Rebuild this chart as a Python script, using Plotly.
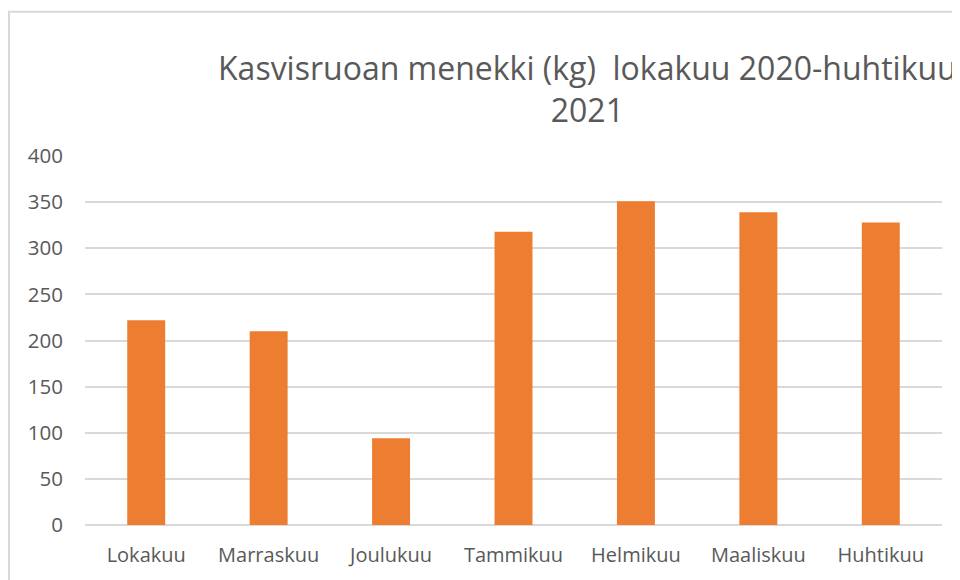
import plotly.graph_objects as go

categories = ["Lokakuu", "Marraskuu", "Joulukuu", "Tammikuu", "Helmikuu", "Maaliskuu", "Huhtikuu"]
values = [222, 210, 94, 318, 351, 339, 328]
y_ticks = [0, 50, 100, 150, 200, 250, 300, 350, 400]
title_text = "Kasvisruoan menekki (kg)  lokakuu 2020-huhtikuu<br>2021"

# page body has an 8px margin, so the figure is drawn 8px smaller and all targets shifted
OFF = 8
W, H = 960 - OFF, 580 - OFF
L, R, T, B = 85 - OFF, 18, 156 - OFF, 53
pw, ph = W - L - R, H - T - B

def px_x(x):
    return (x - OFF - L) / pw

def px_y(y):
    return (H - B - (y - OFF)) / ph

fig = go.Figure(go.Bar(x=categories, y=values, marker=dict(color="#ED7D31", line=dict(width=0)), showlegend=False))

font = "Open Sans, Liberation Sans, sans-serif"
fig.update_layout(
    width=W, height=H,
    margin=dict(l=L, r=R, t=T, b=B),
    paper_bgcolor="white", plot_bgcolor="white",
    bargap=0.69,
    font=dict(family=font, color="#595959", size=19),
    xaxis=dict(showgrid=False, showline=False, zeroline=False, ticks="", ticklabelstandoff=16,
               tickfont=dict(size=20, color="#595959")),
    yaxis=dict(range=[0, 400], tickvals=y_ticks, showgrid=True, gridcolor="#d9d9d9", gridwidth=2,
               zeroline=True, zerolinecolor="#d9d9d9", zerolinewidth=2, showline=False, ticks="",
               ticklabelstandoff=21, tickfont=dict(size=20.5, color="#595959")),
    annotations=[dict(text=title_text, x=px_x(587), y=px_y(88), xref="paper", yref="paper",
                      xanchor="center", yanchor="middle", showarrow=False, align="center",
                      font=dict(size=32, color="#595959", family=font))],
    shapes=[dict(type="rect", xref="paper", yref="paper", x0=px_x(9), x1=px_x(1000), y0=px_y(620), y1=px_y(11),
                 line=dict(color="#d9d9d9", width=2), fillcolor="rgba(0,0,0,0)", layer="below")],
)

fig.write_html("out.html")
